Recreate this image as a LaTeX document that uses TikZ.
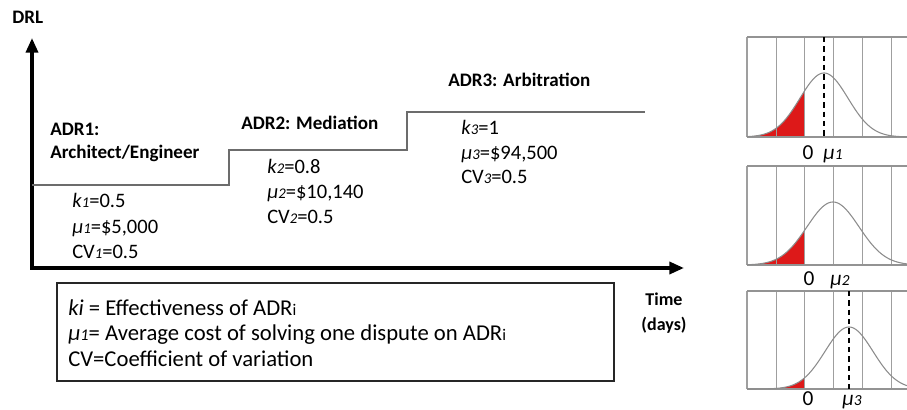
\documentclass[tikz,border=0pt]{standalone}
\usepackage{fontspec}
\setmainfont{Carlito}
\usetikzlibrary{arrows.meta}
\newcommand\smsub[1]{\scalebox{0.72}{\itshape #1}}
\newcommand\smup[1]{\scalebox{0.72}{#1}}
\newcommand\gausspanel[6]{%
  % #1 top, #2 bottom, #3 mean, #4 peak height, #5 sigma, #6 name prefix
  \fill[redfill] plot[domain=747:804,samples=50] (\x,{#2-#4*exp(-((\x-#3)/#5)*((\x-#3)/#5)/2)}) -- (804,#2) -- (747,#2) -- cycle;
  \foreach \gx in {776,804,833,862,891} \draw[gridline] (\gx,#1) -- (\gx,#2);
  \draw[panelside] (747,#1) -- (747,#2);
  \draw[panelrule] (747,#1) -- (907,#1);
  \draw[panelrule] (747,#2) -- (907,#2);
  \draw[curve] plot[domain=747:907,samples=120] (\x,{#2-#4*exp(-((\x-#3)/#5)*((\x-#3)/#5)/2)});
}
\begin{document}
\begin{tikzpicture}[x=0.75pt,y=-0.75pt,
  hdr/.style={font=\fontsize{14.3}{17}\selectfont\bfseries, anchor=base west, inner sep=0pt},
  val/.style={font=\fontsize{15.4}{18}\selectfont, anchor=base west, inner sep=0pt},
  leg/.style={font=\fontsize{17}{20}\selectfont, anchor=base west, inner sep=0pt},
  timelbl/.style={font=\fontsize{13.5}{16}\selectfont\bfseries, anchor=base, inner sep=0pt},
  plbl/.style={font=\fontsize{16}{19}\selectfont, anchor=base, inner sep=0pt},
  axisline/.style={line width=2.6pt, line join=miter, {Triangle[length=11pt,width=9pt]}-{Triangle[length=11pt,width=9pt]}},
  stepline/.style={draw=gray!85!black, line width=1.8pt},
  legendbox/.style={draw=black!85, line width=1.1pt},
  redfill/.style={fill=red!85!black!90!white},
  gridline/.style={draw=gray!75, line width=0.7pt},
  panelside/.style={draw=gray!75, line width=0.8pt},
  panelrule/.style={draw=gray!85, line width=1.4pt},
  curve/.style={draw=gray!90, line width=0.8pt},
  meanline/.style={draw=black, line width=1.2pt, dashed, dash pattern=on 4pt off 3pt}
]
\useasboundingbox (0,0) rectangle (907,410);
\definecolor{redfill}{HTML}{ED1C24}

% axes
\coordinate (O) at (32,268);
\coordinate (Ytop) at (32,38);
\coordinate (Xend) at (684,268);
\draw[axisline] (Ytop) -- (O) -- (Xend);

% step line
\coordinate (s0) at (32,185);
\coordinate (s1) at (229,185);
\coordinate (s2) at (229,150);
\coordinate (s3) at (407,150);
\coordinate (s4) at (407,112);
\coordinate (s5) at (645,112);
\draw[stepline] (s0) -- (s1) -- (s2) -- (s3) -- (s4) -- (s5);

% headings
\node[hdr] (drl) at (12,24) {DRL};
\node[hdr] (adr1a) at (50,135) {ADR1:};
\node[hdr] (adr1b) at (50,158) {Architect/Engineer};
\node[hdr] (adr2) at (241,129) {ADR2: Mediation};
\node[hdr] (adr3) at (448,87) {ADR3: Arbitration};

% values
\node[val] (k1) at (72,207) {\textit{k}\smsub{1}=0.5};
\node[val] (mu1) at (72,233) {\textit{μ}\smsub{1}=\$5,000};
\node[val] (cv1) at (72,258) {CV\smsub{1}=0.5};
\node[val] (k2) at (267,173) {\textit{k}\smsub{2}=0.8};
\node[val] (mu2) at (267,198) {\textit{μ}\smsub{2}=\$10,140};
\node[val] (cv2) at (267,223) {CV\smsub{2}=0.5};
\node[val] (k3) at (461,134) {\textit{k}\smsub{3}=1};
\node[val] (mu3) at (461,159) {\textit{μ}\smsub{3}=\$94,500};
\node[val] (cv3) at (461,183) {CV\smsub{3}=0.5};

% legend
\draw[legendbox] (57,283) rectangle (614,381);
\node[leg] (leg1) at (68,315) {\textit{ki} = Effectiveness of ADR\smup{i}};
\node[leg] (leg2) at (68,340) {\textit{μ}\smsub{1}= Average cost of solving one dispute on ADR\smup{i}};
\node[leg] (leg3) at (68,366) {CV=Coefficient of variation};

% time label
\node[timelbl] (time) at (664,305) {Time};
\node[timelbl] (days) at (664,330) {(days)};

% panels
\gausspanel{37}{137}{824}{64}{24}{a}
\draw[meanline] (824,37) -- (824,137);
\node[plbl] (p1zero) at (808,159) {0};
\node[plbl] (p1mu) at (833,159) {\textit{μ}\smsub{1}};

\gausspanel{166}{265}{833}{63}{26}{b}
\node[plbl] (p2zero) at (809,285) {0};
\node[plbl] (p2mu) at (840,285) {\textit{μ}\smsub{2}};

\gausspanel{291}{389}{849}{62}{24}{c}
\draw[meanline] (849,291) -- (849,389);
\node[plbl] (p3zero) at (808,405) {0};
\node[plbl] (p3mu) at (852,405) {\textit{μ}\smsub{3}};
\end{tikzpicture}
\end{document}
